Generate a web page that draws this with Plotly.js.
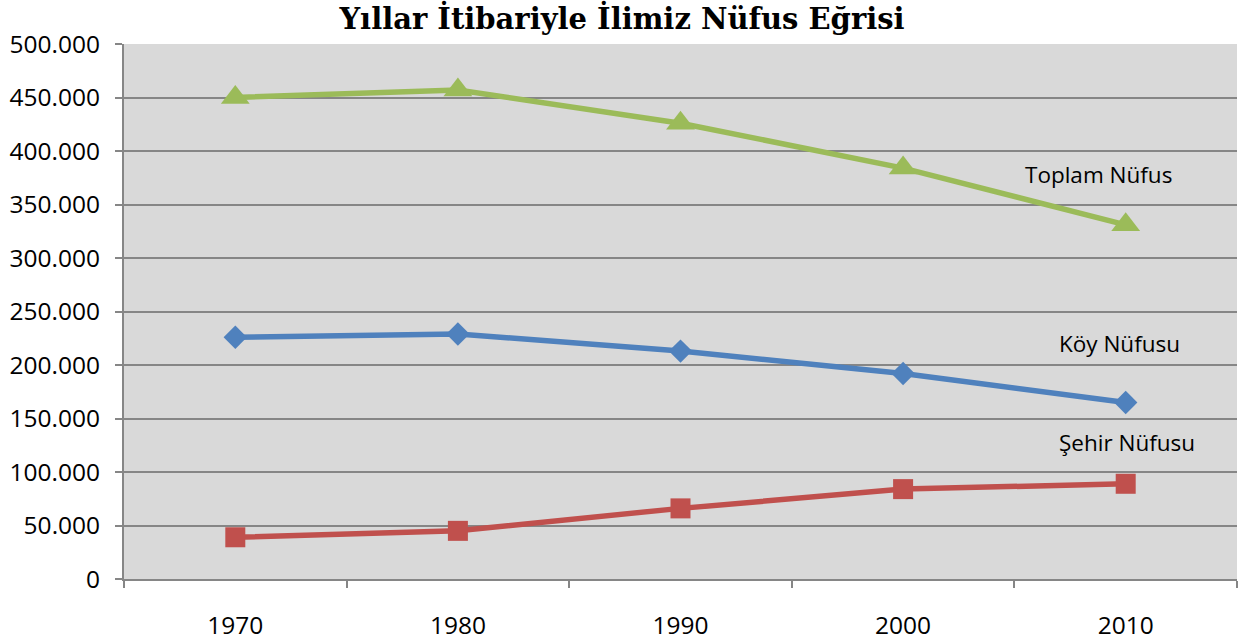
<!DOCTYPE html>
<html><head><meta charset="utf-8">
<script src="https://cdn.plot.ly/plotly-3.0.1.min.js"></script>
<style>html,body{margin:0;padding:0;background:#fff}#chart{width:1239px;height:644px}</style>
</head><body><div id="chart"></div>
<script>
const years = ['1970','1980','1990','2000','2010'];
const koyNufusu = [226000, 229000, 213000, 192000, 165000];
const sehirNufusu = [39000, 45000, 66000, 84000, 89000];
const toplamNufus = [450000, 457000, 426000, 384000, 331000];
const seriesNames = ['Köy Nüfusu', 'Şehir Nüfusu', 'Toplam Nüfus'];
const titleText = 'Yıllar İtibariyle İlimiz Nüfus Eğrisi';

const common = {type:'scatter', mode:'lines+markers', x: years, cliponaxis:false, showlegend:false};
const traces = [
  Object.assign({}, common, {y: toplamNufus, name: seriesNames[2],
    line:{color:'#9bbb59', width:5.5}, marker:{symbol:'triangle-up', size:25, color:'#9bbb59'}}),
  Object.assign({}, common, {y: koyNufusu, name: seriesNames[0],
    line:{color:'#4f81bd', width:5.5}, marker:{symbol:'diamond', size:18, color:'#4f81bd'}}),
  Object.assign({}, common, {y: sehirNufusu, name: seriesNames[1],
    line:{color:'#c0504d', width:5.5}, marker:{symbol:'square', size:20, color:'#c0504d'}})
];

const labelFont = {family:'Open Sans, sans-serif', size:22.5, color:'#000'};
const layout = {
  width:1239, height:644,
  margin:{l:124, r:2, t:44, b:65},
  paper_bgcolor:'#ffffff', plot_bgcolor:'#d9d9d9',
  separators:',.',
  title:{text:titleText, x:0.502, xanchor:'center', y:0.971, yanchor:'middle',
    font:{family:'DejaVu Serif, serif', size:29, color:'#000', weight:'bold'}},
  xaxis:{type:'category', range:[-0.5,4.5], tickson:'boundaries', ticks:'outside', ticklen:7,
    tickwidth:2, tickcolor:'#868686', showgrid:false, showline:true, linecolor:'#868686', linewidth:2,
    ticklabelstandoff:24, tickfont:{family:'Open Sans, sans-serif', size:24.5, color:'#000'}, zeroline:false, fixedrange:true},
  yaxis:{range:[0,500000], dtick:50000, tickformat:',d', ticks:'outside', ticklen:7, tickwidth:2,
    tickcolor:'#868686', showgrid:true, gridcolor:'#868686', gridwidth:2, showline:true,
    linecolor:'#868686', linewidth:2, zeroline:false, ticklabelstandoff:10,
    tickfont:{family:'Open Sans, sans-serif', size:24.5, color:'#000'}, fixedrange:true},
  annotations:[
    {text:seriesNames[2], xref:'paper', yref:'y', x:0.808, y:378000, xanchor:'left', yanchor:'middle', showarrow:false, font:labelFont},
    {text:seriesNames[0], xref:'paper', yref:'y', x:0.838, y:220500, xanchor:'left', yanchor:'middle', showarrow:false, font:labelFont},
    {text:seriesNames[1], xref:'paper', yref:'y', x:0.838, y:127500, xanchor:'left', yanchor:'middle', showarrow:false, font:labelFont}
  ]
};
Plotly.newPlot('chart', traces, layout, {staticPlot:true, displayModeBar:false});
</script></body></html>
